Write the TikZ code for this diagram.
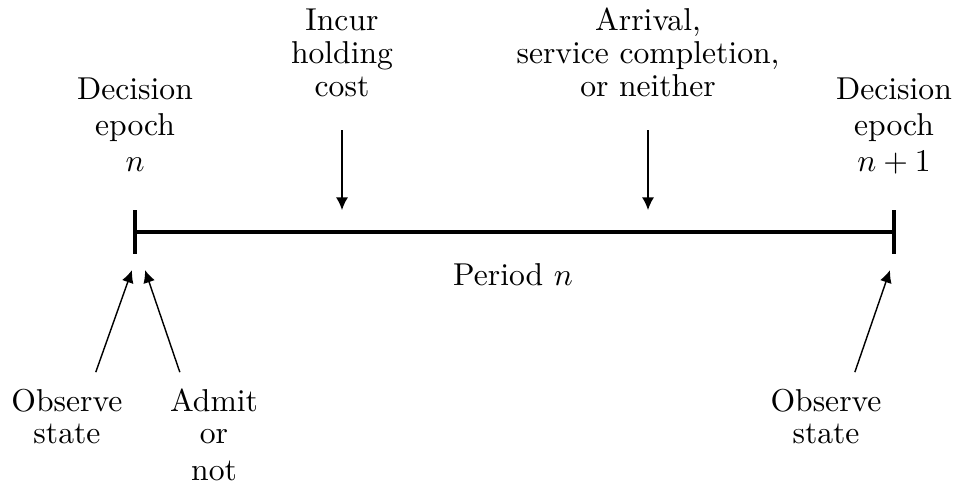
\documentclass[tikz,border=0pt]{standalone}
\usetikzlibrary{arrows.meta}

\tikzset{
  lbl/.style={align=center, inner sep=0.333em, font=\fontsize{10pt}{10.3pt}\selectfont},
  declbl/.style={lbl, font=\fontsize{10pt}{11.4pt}\selectfont},
  arr/.style={-{Latex[length=4pt,width=3.8pt]}, line width=0.45pt},
  tick/.style={line width=1.25pt},
}

\begin{document}
\begin{tikzpicture}
%\draw[step=0.5cm,gray,very thin] (-1.5,-2.9) grid (9.1,2.6);
\useasboundingbox (-1.5,-2.878) rectangle (9.111,2.578);

% time line
\coordinate (s) at (0,0);
\coordinate (e) at (8.433,0);
\draw[tick] (s) -- (e);
\draw[tick] (0,-0.24) -- (0,0.24);
\draw[tick] (8.433,-0.24) -- (8.433,0.24);

\node[lbl, anchor=base] (period) at (4.2,-0.589) {Period $n$};

% decision epochs
\node[declbl, anchor=south] (epochn) at (0,0.55) {Decision\\epoch\\$n$};
\node[declbl, anchor=south] (epochm) at (8.433,0.521) {Decision\\epoch\\$n+1$};

% events during the period
\coordinate (hold) at (2.3,0.244);
\coordinate (event) at (5.7,0.244);
\node[lbl, anchor=south] (incur) at (2.3,1.383) {Incur\\holding\\cost};
\node[lbl, anchor=south] (arrival) at (5.7,1.383) {Arrival,\\service completion,\\or neither};
\draw[arr, shorten <=2.5mm] (incur.south) -- (hold);
\draw[arr, shorten <=2.5mm] (arrival.south) -- (event);

% actions at the epochs
\coordinate (obsltip) at (-0.033,-0.422);
\coordinate (admtip) at (0.111,-0.422);
\coordinate (obsrtip) at (8.389,-0.422);
\node[lbl, anchor=north] (obsl) at (-0.756,-1.617) {Observe\\state};
\node[lbl, anchor=north] (admit) at (0.878,-1.617) {Admit\\or\\[1.1pt]not};
\node[lbl, anchor=north] (obsr) at (7.678,-1.617) {Observe\\state};
\draw[arr] ([xshift=3.2mm,yshift=0.6mm]obsl.north) -- (obsltip);
\draw[arr] ([xshift=-3.8mm,yshift=0.6mm]admit.north) -- (admtip);
\draw[arr] ([xshift=3.2mm,yshift=0.6mm]obsr.north) -- (obsrtip);

\end{tikzpicture}
\end{document}
